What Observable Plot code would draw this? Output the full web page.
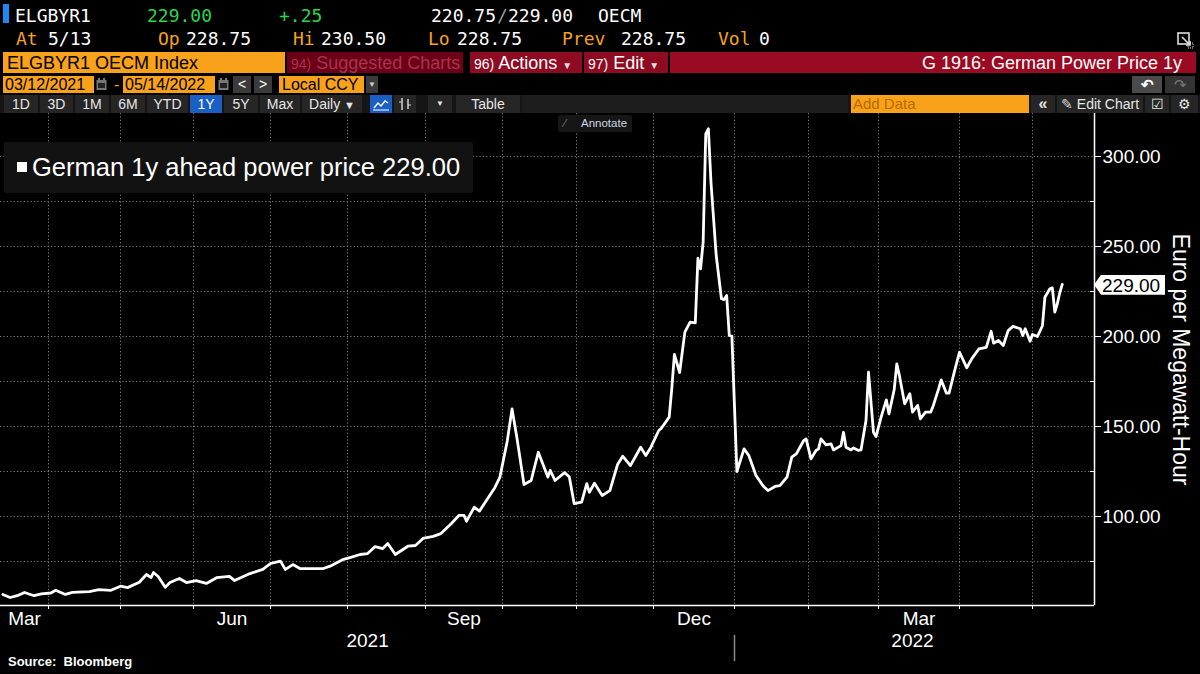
<!DOCTYPE html>
<html><head><meta charset="utf-8">
<script src="https://cdn.jsdelivr.net/npm/d3@7"></script>
<script src="https://cdn.jsdelivr.net/npm/@observablehq/plot@0.6"></script>
<style>
html,body{margin:0;padding:0;background:#000;}
#page{position:relative;width:1200px;height:674px;overflow:hidden;background:#000;font-family:"Liberation Sans",Arial,sans-serif;color:#fff;}
.a{position:absolute;white-space:nowrap;}
.m{font-family:"DejaVu Sans Mono","Liberation Mono",monospace;font-size:18px;line-height:18px;}
.or{color:#f6a21c;}
.gr{color:#2ad64a;}
.box{position:absolute;top:52px;height:21px;line-height:22px;font-size:18px;white-space:nowrap;overflow:hidden;}
.ob{background:#f8a11b;color:#000;}
.r4{position:absolute;top:76px;height:17px;line-height:17px;font-size:16px;white-space:nowrap;}
.btn{position:absolute;top:95px;height:18px;line-height:18px;background:#262626;color:#e6e6e6;font-size:14px;text-align:center;overflow:hidden;}
#chart{position:absolute;left:0;top:113px;}
</style></head>
<body><div id="page">

<!-- Row 1 -->
<div class="a" style="left:3px;top:4px;width:6px;height:19px;background:#1f86f5"></div>
<div class="a m" style="left:15px;top:7px">ELGBYR1</div>
<div class="a m gr" style="left:147px;top:7px">229.00</div>
<div class="a m gr" style="left:279px;top:7px">+.25</div>
<div class="a m" style="left:431px;top:7px">220.75</div>
<div class="a m" style="left:497px;top:7px;color:#9a9a9a">/</div>
<div class="a m" style="left:508px;top:7px">229.00</div>
<div class="a m" style="left:598px;top:7px">OECM</div>
<!-- Row 2 -->
<div class="a m or" style="left:16px;top:30px">At</div>
<div class="a m" style="left:48px;top:30px">5/13</div>
<div class="a m or" style="left:158px;top:30px">Op</div>
<div class="a m" style="left:186px;top:30px">228.75</div>
<div class="a m or" style="left:293px;top:30px">Hi</div>
<div class="a m" style="left:321px;top:30px">230.50</div>
<div class="a m or" style="left:428px;top:30px">Lo</div>
<div class="a m" style="left:457px;top:30px">228.75</div>
<div class="a m or" style="left:562px;top:30px">Prev</div>
<div class="a m" style="left:621px;top:30px">228.75</div>
<div class="a m or" style="left:718px;top:30px">Vol</div>
<div class="a m" style="left:759px;top:30px">0</div>
<svg class="a" style="left:1177px;top:32px" width="17" height="17" viewBox="0 0 17 17">
  <rect x="1" y="1" width="11" height="11" fill="none" stroke="#ddd" stroke-width="1.6"/>
  <path d="M5 5 L13 13 M9 13 H13 V9" stroke="#ddd" stroke-width="1.6" fill="none"/>
  <rect x="11" y="11" width="5" height="5" fill="none" stroke="#ddd" stroke-width="1" stroke-dasharray="1,1"/>
</svg>

<!-- Row 3 -->
<div class="box ob" style="left:3px;width:282px;padding-left:4px;box-sizing:border-box">ELGBYR1 OECM Index</div>
<div class="box" style="left:287px;width:176px;background:#6c0018;color:#a8344a;padding-left:4px;box-sizing:border-box"><span style="font-size:14px">94)</span> Suggested Charts</div>
<div class="box" style="left:470px;width:112px;background:#8e0b22;color:#fff;padding-left:4px;box-sizing:border-box"><span style="font-size:14px">96)</span> Actions <span style="font-size:10px;color:#ddd">&#9660;</span></div>
<div class="box" style="left:584px;width:84px;background:#8e0b22;color:#fff;padding-left:4px;box-sizing:border-box"><span style="font-size:14px">97)</span> Edit <span style="font-size:10px;color:#ddd">&#9660;</span></div>
<div class="box" style="left:670px;width:526px;background:#9a0a22;color:#fff;text-align:right;padding-right:14px;box-sizing:border-box">G 1916: German Power Price 1y</div>

<!-- Row 4 -->
<div class="r4 ob" style="left:3px;width:91px;padding-left:2px;box-sizing:border-box">03/12/2021</div>
<svg class="a" style="left:96px;top:78px" width="11" height="13"><rect x="0.5" y="2" width="10" height="10" fill="#777"/><rect x="2" y="5" width="7" height="5" fill="#222"/><rect x="2" y="0" width="2" height="3" fill="#777"/><rect x="7" y="0" width="2" height="3" fill="#777"/></svg>
<div class="r4" style="left:114px;width:8px;color:#f8a11b">-</div>
<div class="r4 ob" style="left:123px;width:92px;padding-left:2px;box-sizing:border-box">05/14/2022</div>
<svg class="a" style="left:218px;top:78px" width="11" height="13"><rect x="0.5" y="2" width="10" height="10" fill="#777"/><rect x="2" y="5" width="7" height="5" fill="#222"/><rect x="2" y="0" width="2" height="3" fill="#777"/><rect x="7" y="0" width="2" height="3" fill="#777"/></svg>
<div class="r4" style="left:233px;width:18px;background:#3b3b3b;color:#fff;text-align:center;font-size:14px">&lt;</div>
<div class="r4" style="left:254px;width:18px;background:#3b3b3b;color:#fff;text-align:center;font-size:14px">&gt;</div>
<div class="r4 ob" style="left:279px;width:85px;padding-left:3px;box-sizing:border-box">Local CCY</div>
<div class="r4" style="left:366px;width:12px;background:#3b3b3b;color:#ccc;text-align:center;font-size:8px">&#9660;</div>
<div class="r4" style="left:1132px;width:30px;background:#4a4a4a;color:#fff;text-align:center;font-size:15px;font-weight:bold">&#8630;</div>
<div class="r4" style="left:1165px;width:30px;background:#333;color:#777;text-align:center;font-size:15px">&#8631;</div>

<!-- Row 5 toolbar -->
<div class="a" style="left:0;top:95px;width:1200px;height:18px;background:#151515"></div>
<div class="btn" style="left:4px;width:34px">1D</div>
<div class="btn" style="left:40px;width:33px">3D</div>
<div class="btn" style="left:75px;width:34px">1M</div>
<div class="btn" style="left:111px;width:34px">6M</div>
<div class="btn" style="left:147px;width:41px">YTD</div>
<div class="btn" style="left:190px;width:32px;background:#1a5fc4;color:#fff">1Y</div>
<div class="btn" style="left:224px;width:34px">5Y</div>
<div class="btn" style="left:260px;width:40px">Max</div>
<div class="btn" style="left:302px;width:60px">Daily <span style="font-size:11px">&#9660;</span></div>
<div class="btn" style="left:370px;width:22px;background:#1a5fc4"><svg width="18" height="14" style="margin-top:2px"><polyline points="2,11 6,6 9,9 13,4 16,6" fill="none" stroke="#fff" stroke-width="1.4"/><line x1="1" y1="13" x2="17" y2="13" stroke="#fff" stroke-width="1"/></svg></div>
<div class="btn" style="left:394px;width:22px"><svg width="16" height="14" style="margin-top:2px"><line x1="5" y1="1" x2="5" y2="13" stroke="#ddd" stroke-width="1.4"/><line x1="2" y1="5" x2="5" y2="5" stroke="#ddd"/><line x1="11" y1="2" x2="11" y2="12" stroke="#ddd" stroke-width="1.4"/><line x1="11" y1="8" x2="14" y2="8" stroke="#ddd"/></svg></div>
<div class="btn" style="left:428px;width:24px;font-size:8px">&#9660;</div>
<div class="btn" style="left:456px;width:64px">Table</div>
<div class="btn" style="left:522px;width:326px;background:#1d1d1d"></div>
<div class="btn" style="left:851px;width:178px;background:#f8a11b;color:#b86a00;text-align:left;padding-left:2px;box-sizing:border-box;font-size:15px">Add Data</div>
<div class="btn" style="left:1031px;width:24px;font-weight:bold;font-size:16px">&#171;</div>
<div class="btn" style="left:1057px;width:86px"><span style="color:#ddd">&#9998;</span> Edit Chart</div>
<div class="btn" style="left:1145px;width:24px">&#9745;</div>
<div class="btn" style="left:1171px;width:27px">&#9881;</div>

<div id="chart"></div>

<!-- legend -->
<div class="a" style="left:4px;top:142px;width:469px;height:51px;background:#121212;border-radius:2px"></div>
<div class="a" style="left:17px;top:162px;width:10px;height:10px;background:#fff"></div>
<div class="a" id="legendText" style="left:32px;top:155px;font-size:25.5px;line-height:25.5px"></div>

<!-- annotate -->
<div class="a" style="left:558px;top:115px;width:74px;height:17px;background:#161616;border-radius:2px;font-size:11.5px;line-height:17px;color:#cdd6e4"><span style="position:absolute;left:6px;color:#777">&#8725;</span><span style="position:absolute;left:23px">Annotate</span></div>

<div id="tag" class="a" style="left:1094px;width:71px;height:20px;background:#fff;color:#000;font-size:19px;line-height:21px;padding-left:8px;box-sizing:border-box;clip-path:polygon(0 50%,7px 0,100% 0,100% 100%,7px 100%)"></div>

<div class="a" style="left:8px;top:654px;font-size:13px;font-weight:bold;line-height:15px">Source:&nbsp;&nbsp;Bloomberg</div>
</div>

<script>
// ---- Data ----
const seriesName = "German 1y ahead power price";
const yTitle = "Euro per Megawatt-Hour";

const dates = [
"2021-03-13","2021-03-16","2021-03-19","2021-03-22","2021-03-26","2021-03-29",
"2021-04-02","2021-04-04","2021-04-08","2021-04-11","2021-04-18","2021-04-22","2021-04-27",
"2021-05-01","2021-05-04","2021-05-09","2021-05-12","2021-05-14","2021-05-15","2021-05-17","2021-05-20","2021-05-22","2021-05-26","2021-05-29",
"2021-06-02","2021-06-06","2021-06-10","2021-06-15","2021-06-17","2021-06-23","2021-06-28",
"2021-07-01","2021-07-05","2021-07-07","2021-07-10","2021-07-13","2021-07-22","2021-07-25","2021-07-30",
"2021-08-02","2021-08-06","2021-08-09","2021-08-12","2021-08-15","2021-08-17","2021-08-20","2021-08-25","2021-08-28","2021-08-31",
"2021-09-04","2021-09-07","2021-09-11","2021-09-14","2021-09-16","2021-09-17","2021-09-20","2021-09-22","2021-09-26","2021-09-28","2021-09-30",
"2021-10-03","2021-10-05","2021-10-07","2021-10-10","2021-10-13","2021-10-16","2021-10-20","2021-10-21","2021-10-23","2021-10-27","2021-10-29","2021-10-31",
"2021-11-03","2021-11-05","2021-11-06","2021-11-08","2021-11-11","2021-11-14","2021-11-17","2021-11-19","2021-11-22","2021-11-26","2021-11-28","2021-11-30",
"2021-12-03","2021-12-04","2021-12-07","2021-12-08","2021-12-09","2021-12-11","2021-12-13","2021-12-15","2021-12-17","2021-12-18","2021-12-19","2021-12-20","2021-12-21","2021-12-22","2021-12-23","2021-12-25","2021-12-27","2021-12-28","2021-12-29","2021-12-30","2021-12-31",
"2022-01-02","2022-01-05","2022-01-07","2022-01-10","2022-01-13","2022-01-15","2022-01-18","2022-01-20","2022-01-23","2022-01-25","2022-01-27","2022-01-30","2022-01-31",
"2022-02-02","2022-02-04","2022-02-05","2022-02-06","2022-02-08","2022-02-10","2022-02-11","2022-02-14","2022-02-15","2022-02-16","2022-02-18","2022-02-19","2022-02-21","2022-02-22","2022-02-24","2022-02-25","2022-02-27","2022-02-28",
"2022-03-02","2022-03-04","2022-03-05","2022-03-07","2022-03-08","2022-03-09","2022-03-11","2022-03-13","2022-03-14","2022-03-16","2022-03-17","2022-03-19","2022-03-21","2022-03-22","2022-03-24","2022-03-25","2022-03-27","2022-03-28","2022-03-30",
"2022-04-01","2022-04-04","2022-04-06","2022-04-09","2022-04-12","2022-04-14","2022-04-15","2022-04-17","2022-04-19","2022-04-21","2022-04-23","2022-04-26","2022-04-27","2022-04-28","2022-04-30",
"2022-05-01","2022-05-03","2022-05-05","2022-05-06","2022-05-08","2022-05-09","2022-05-10","2022-05-11","2022-05-12","2022-05-13"
];
const prices = [
56.7,55,56,57.8,56,57,
57.5,59,56.7,57.8,58.3,59.4,59,
61.3,60.5,63.5,67.8,66.1,68.9,66.7,60.7,63.3,65.6,63.3,
64.4,62.8,66,66.7,64.4,68.3,70.6,
73.9,75.2,70.6,73.3,71,71,72.4,76,
77.2,78.9,79.4,83.3,82.2,85,78.9,83.5,83.9,87.8,
89,90.5,96,100.6,100.6,97.4,105.2,103,111.7,116,121.9,
142,159.8,144,117.8,120,135.7,121.9,125.6,120,124.4,121.9,107.2,
108,118.3,113.5,118.5,111.7,114.4,128.9,133.5,128.3,138.5,133.9,138.5,
147.8,149,155.2,171,190,180,202.4,208,207.6,243.5,237.6,252.4,312.6,315.4,285.7,245,221,220.5,222.8,200.6,200.2,
125,137.6,133.9,122.8,116.9,114.4,116.7,117.2,121.9,133,135,142.2,143.1,
132,136.7,137.6,143.1,139.8,140.4,137,139.4,146.8,138.5,137,138.1,136.7,137,153.3,180.2,146.8,144.4,
155.2,164.8,157,170.4,184.8,178.3,162.6,168.2,158,161.7,154.3,158,158,161.7,170.9,175.9,168.5,168.5,180.2,
191.3,182.6,187.6,193.2,194,202.9,196.3,197.8,195,203.3,205.6,204.3,200.6,204.3,197.4,
201.1,200,206,221.8,226.5,227,213.5,218.2,224.3,229
];

// axis definitions
const axisStart = "2021-03-12";
const axisEnd = "2022-05-26";
const monthStarts = ["2021-04-01","2021-05-01","2021-06-01","2021-07-01","2021-08-01","2021-09-01","2021-10-01","2021-11-01","2021-12-01","2022-01-01","2022-02-01","2022-03-01","2022-04-01","2022-05-01"];
const monthLabels = ["Mar","Jun","Sep","Dec","Mar"];
const monthLabelDates = ["2021-03-22","2021-06-16","2021-09-16","2021-12-16T12:00","2022-03-16T12:00"];
const yearLabels = ["2021","2022"];
const yearLabelDates = ["2021-08-09","2022-03-14"];
const yearBoundary = "2022-01-01";
const yLabelTicks = [100,150,200,250,300];
const yMinorTicks = [75,125,175,225,275];
const yGrid = [75,100,125,150,175,200,225,250,275,300];
const yDomain = [50.56, 323.9];

// ---- build ----
const D = s => new Date(s);
const data = dates.map((d, i) => ({date: D(d), price: prices[i]}));
const last = data[data.length - 1];
const fmt = d3.format(".2f");

const chart = Plot.plot({
  width: 1200, height: 550,
  marginTop: 0, marginRight: 106, marginBottom: 58, marginLeft: 0,
  style: {background: "transparent", color: "#fff", fontFamily: '"Liberation Sans", Arial, sans-serif', fontSize: "19px", overflow: "visible"},
  x: {type: "utc", label: null,
      domain: [axisStart, ...monthStarts, axisEnd].map(D),
      // Bloomberg spaces the axis by trading days: month boundaries are not quite uniform
      range: [0, 48, 120, 193, 270, 347, 425, 502, 576, 653, 734, 808, 878, 959, 1032, 1094]},
  y: {domain: yDomain, range: [492, 0], label: null},
  marks: [
    Plot.ruleY(yGrid, {stroke: "#7c7c7c", strokeDasharray: "1.2,2.2"}),
    Plot.ruleX(monthStarts.map(D), {stroke: "#7c7c7c", strokeDasharray: "1.2,2.2"}),
    Plot.ruleY([yDomain[0]], {stroke: "#fff", strokeWidth: 1.5}),
    Plot.ruleX([D(axisEnd)], {stroke: "#fff", strokeWidth: 1.5}),
    Plot.axisX({ticks: monthStarts.map(D), tickSize: 4, tickFormat: () => "", label: null, stroke: "#fff"}),
    Plot.axisY({anchor: "right", ticks: yLabelTicks, tickFormat: fmt, tickSize: 6, tickPadding: 2, fontSize: 19, label: null, stroke: "#fff"}),
    Plot.axisY({anchor: "right", ticks: yMinorTicks, tickFormat: () => "", tickSize: -5, label: null, stroke: "#fff"}),
    Plot.line(data, {x: "date", y: "price", stroke: "#fff", strokeWidth: 2.8, strokeLinejoin: "round", strokeLinecap: "round"}),
    Plot.text(monthLabels, {x: (d, i) => D(monthLabelDates[i]), text: d => d, frameAnchor: "bottom", dy: 19, fill: "#fff", fontSize: 19}),
    Plot.text(yearLabels, {x: (d, i) => D(yearLabelDates[i]), text: d => d, frameAnchor: "bottom", dy: 41, fill: "#fff", fontSize: 19}),
    Plot.ruleX([D(yearBoundary)], {insetTop: 522, insetBottom: -56, stroke: "#8a8a8a", strokeWidth: 1.5}),
    Plot.text([yTitle], {frameAnchor: "right", textAnchor: "middle", dx: 86, rotate: 90, fontSize: 23, fill: "#fff"})
  ]
});
document.getElementById("chart").appendChild(chart);

document.getElementById("legendText").textContent = seriesName + " " + fmt(last.price);
const tag = document.getElementById("tag");
tag.textContent = fmt(last.price);
tag.style.top = (113 + chart.scale("y").apply(last.price) - 9) + "px";
</script>
</body></html>
